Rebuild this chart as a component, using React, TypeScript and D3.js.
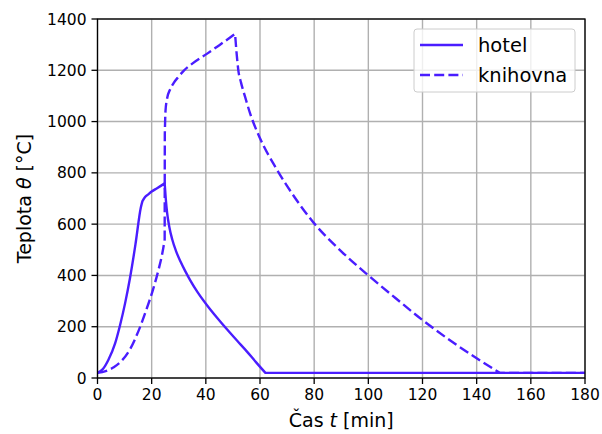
import React from "react";
import * as d3 from "d3";

// Fire temperature curves: time [min] vs gas temperature [°C]
const hotelTime = [0, 2, 4, 6.5, 8.3, 10.2, 12, 14, 16, 16.6, 17.5, 18.5, 20, 22, 24.8, 25.2, 25.7, 26.5, 27.6, 29, 30.6, 32.5, 34.3, 37, 40.5, 44, 47.8, 51.5, 55.2, 58.5, 62, 180];
const hotelTemp = [20, 35, 70, 135, 205, 292, 390, 520, 665, 690, 705, 714, 727, 740, 759, 700, 645, 590, 540, 495, 455, 415, 380, 334, 283, 237, 190, 146, 103, 62, 20, 20];
// phase boundaries (start of flashover plateau, peak, burnout)
const hotelBreaks = [16.6, 24.8, 62];

const libraryTime = [0, 3, 6, 9, 12, 15, 18, 20.5, 22.6, 24, 24.8, 24.85, 25.1, 25.7, 26.8, 28.1, 30, 31.8, 35, 40.5, 45, 50.8, 51.4, 52, 53, 54.5, 56.4, 60, 65.6, 71.8, 80, 90, 100, 110, 120, 130, 140, 148.5, 180];
const libraryTemp = [20, 27, 42, 68, 112, 180, 265, 345, 425, 490, 540, 950, 1040, 1090, 1125, 1150, 1176, 1198, 1226, 1265, 1298, 1342, 1262, 1200, 1152, 1096, 1030, 935, 824, 720, 603, 494, 400, 312, 226, 148, 77, 20, 20];
const libraryBreaks = [24.8, 24.85, 50.8, 148.5];

const xTicks = [0, 20, 40, 60, 80, 100, 120, 140, 160, 180];
const yTicks = [0, 200, 400, 600, 800, 1000, 1200, 1400];

const seriesNames = ["hotel", "knihovna"];

const W = 602;
const H = 434;
const margin = { left: 97.5, right: 17, top: 19, bottom: 56 };
const FONT = "DejaVu Sans, sans-serif";
const LINE_COLOR = "#4a1dff";
const DASH = "10 4.2";

type Pt = [number, number];

// Smooth each phase separately so that corners between phases stay sharp,
// then join the pieces into one continuous path.
function phasedPath(
  times: number[],
  temps: number[],
  breaks: number[],
  x: d3.ScaleLinear<number, number>,
  y: d3.ScaleLinear<number, number>
): string {
  const pts: Pt[] = times.map((t, i) => [t, temps[i]]);
  const pieces: Pt[][] = [];
  let current: Pt[] = [];
  pts.forEach((p) => {
    current.push(p);
    if (breaks.includes(p[0])) {
      pieces.push(current);
      current = [p];
    }
  });
  if (current.length > 1) pieces.push(current);

  const gen = d3
    .line<Pt>()
    .x((d) => x(d[0]))
    .y((d) => y(d[1]))
    .curve(d3.curveMonotoneX);

  return pieces
    .map((piece, i) => {
      const d = gen(piece) || "";
      return i === 0 ? d : d.replace(/^M/, "L");
    })
    .join("");
}

export default function App() {
  const x = d3.scaleLinear().domain([0, 180]).range([margin.left, W - margin.right]);
  const y = d3.scaleLinear().domain([0, 1400]).range([H - margin.bottom, margin.top]);

  const hotelPath = phasedPath(hotelTime, hotelTemp, hotelBreaks, x, y);
  const libraryPath = phasedPath(libraryTime, libraryTemp, libraryBreaks, x, y);

  const [x0, x1] = x.range();
  const [y0, y1] = y.range();

  const legendX = 414;
  const legendY = 29;

  return (
    <svg
      width={W}
      height={H}
      style={{ position: "absolute", left: 0, top: 0, background: "#fff" }}
      fontFamily={FONT}
    >
      <defs>
        <clipPath id="plot-area">
          <rect x={x0} y={y1 - 2} width={x1 - x0} height={y0 - y1 + 2} />
        </clipPath>
      </defs>

      {/* grid */}
      <g stroke="#b0b0b0" strokeWidth={1.4}>
        {xTicks.map((t) => (
          <line key={"gx" + t} x1={x(t)} x2={x(t)} y1={y1} y2={y0} />
        ))}
        {yTicks.map((t) => (
          <line key={"gy" + t} x1={x0} x2={x1} y1={y(t)} y2={y(t)} />
        ))}
      </g>

      {/* curves */}
      <g clipPath="url(#plot-area)" fill="none" stroke={LINE_COLOR} strokeWidth={2.4} strokeLinejoin="round">
        <path d={hotelPath} />
        <path d={libraryPath} strokeDasharray={DASH} />
      </g>

      {/* frame */}
      <rect x={x0} y={y1} width={x1 - x0} height={y0 - y1} fill="none" stroke="#000" strokeWidth={1.3} />

      {/* x ticks */}
      <g>
        {xTicks.map((t) => (
          <g key={"xt" + t}>
            <line x1={x(t)} x2={x(t)} y1={y0} y2={y0 + 6} stroke="#000" strokeWidth={1.3} />
            <text x={x(t)} y={y0 + 22} textAnchor="middle" fontSize={15.5} fill="#000">
              {t}
            </text>
          </g>
        ))}
      </g>

      {/* y ticks */}
      <g>
        {yTicks.map((t) => (
          <g key={"yt" + t}>
            <line x1={x0 - 6} x2={x0} y1={y(t)} y2={y(t)} stroke="#000" strokeWidth={1.3} />
            <text x={x0 - 11} y={y(t)} dy="0.36em" textAnchor="end" fontSize={15.5} fill="#000">
              {t}
            </text>
          </g>
        ))}
      </g>

      {/* axis labels */}
      <text x={(x0 + x1) / 2} y={H - 7} textAnchor="middle" fontSize={19} fill="#000">
        Čas <tspan fontStyle="italic">t</tspan> [min]
      </text>
      <text
        transform={`translate(31, ${(y0 + y1) / 2}) rotate(-90)`}
        textAnchor="middle"
        fontSize={19}
        fill="#000"
      >
        Teplota <tspan fontStyle="italic">θ</tspan> [°C]
      </text>

      {/* legend */}
      <g>
        <rect
          x={legendX}
          y={legendY}
          width={161}
          height={63}
          rx={3}
          fill="#fff"
          fillOpacity={0.8}
          stroke="#cccccc"
          strokeWidth={1}
        />
        {seriesNames.map((name, i) => (
          <g key={name}>
            <line
              x1={legendX + 6}
              x2={legendX + 49}
              y1={legendY + 16 + i * 30}
              y2={legendY + 16 + i * 30}
              stroke={LINE_COLOR}
              strokeWidth={2.4}
              strokeDasharray={i === 1 ? DASH : undefined}
            />
            <text x={legendX + 64} y={legendY + 16 + i * 30} dy="0.35em" fontSize={19.5} fill="#000">
              {name}
            </text>
          </g>
        ))}
      </g>
    </svg>
  );
}
